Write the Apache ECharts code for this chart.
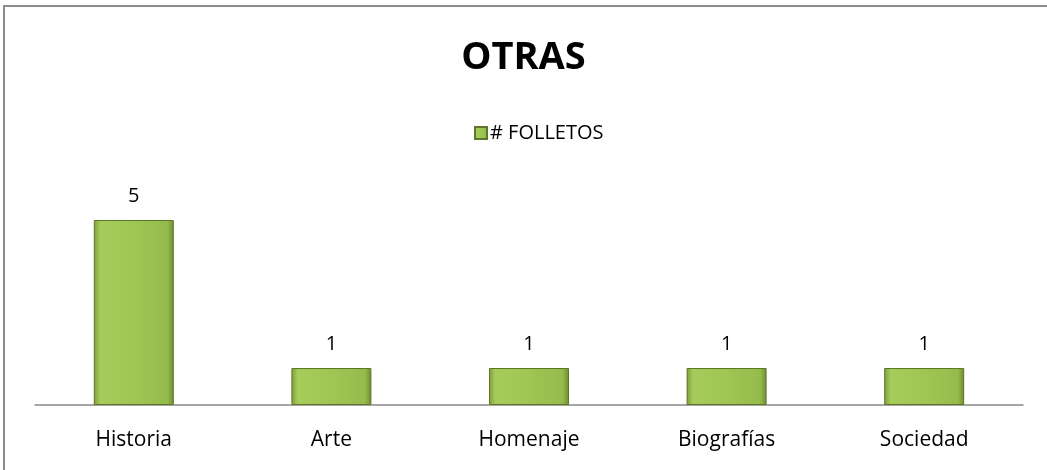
<!DOCTYPE html>
<html><head><meta charset="utf-8">
<script src="https://cdn.jsdelivr.net/npm/echarts@6/dist/echarts.min.js"></script>
<style>html,body{margin:0;padding:0;background:#fff}#c{width:1047px;height:470px}</style>
</head><body><div id="c"></div>
<script>
var categories = ['Historia', 'Arte', 'Homenaje', 'Biografías', 'Sociedad'];
var folletos = [5, 1, 1, 1, 1];
var seriesName = '# FOLLETOS';
var titleText = 'OTRAS';

var chart = echarts.init(document.getElementById('c'));
var font = '"Open Sans", sans-serif';
var barColor = new echarts.graphic.LinearGradient(0, 0, 1, 0, [
  {offset: 0, color: '#7f9c3a'},
  {offset: 0.08, color: '#a6cc5c'},
  {offset: 0.5, color: '#9fc654'},
  {offset: 0.92, color: '#95bb4c'},
  {offset: 1, color: '#6f8a30'}
]);
chart.setOption({
  animation: false,
  title: {text: titleText, left: 'center', top: 34, textStyle: {fontFamily: font, fontSize: 38, fontWeight: 'bold', color: '#000'}},
  legend: {data: [seriesName], top: 118, left: 469, itemWidth: 12, itemHeight: 12, itemGap: 4,
    icon: 'rect',
    textStyle: {fontFamily: font, fontSize: 20, color: '#000', padding: [0, 0, 0, -2]}},
  graphic: [{type: 'rect', shape: {x: 4, y: 6, width: 1100, height: 500}, style: {fill: 'none', stroke: '#8c8c8c', lineWidth: 2}, silent: true}],
  grid: {left: 35, right: 24, top: 183, bottom: 65},
  xAxis: {type: 'category', data: categories,
    axisLine: {lineStyle: {color: '#888', width: 1.5}}, axisTick: {show: false},
    axisLabel: {fontFamily: font, fontSize: 21, color: '#000', margin: 25}},
  yAxis: {type: 'value', min: 0, max: 6, show: false, splitLine: {show: false}},
  series: [{name: seriesName, type: 'bar', data: folletos, barWidth: 80,
    itemStyle: {color: barColor, borderColor: '#5e7628', borderWidth: 1},
    label: {show: true, position: 'top', distance: 14, fontFamily: font, fontSize: 20, color: '#000'}}]
});
</script></body></html>
